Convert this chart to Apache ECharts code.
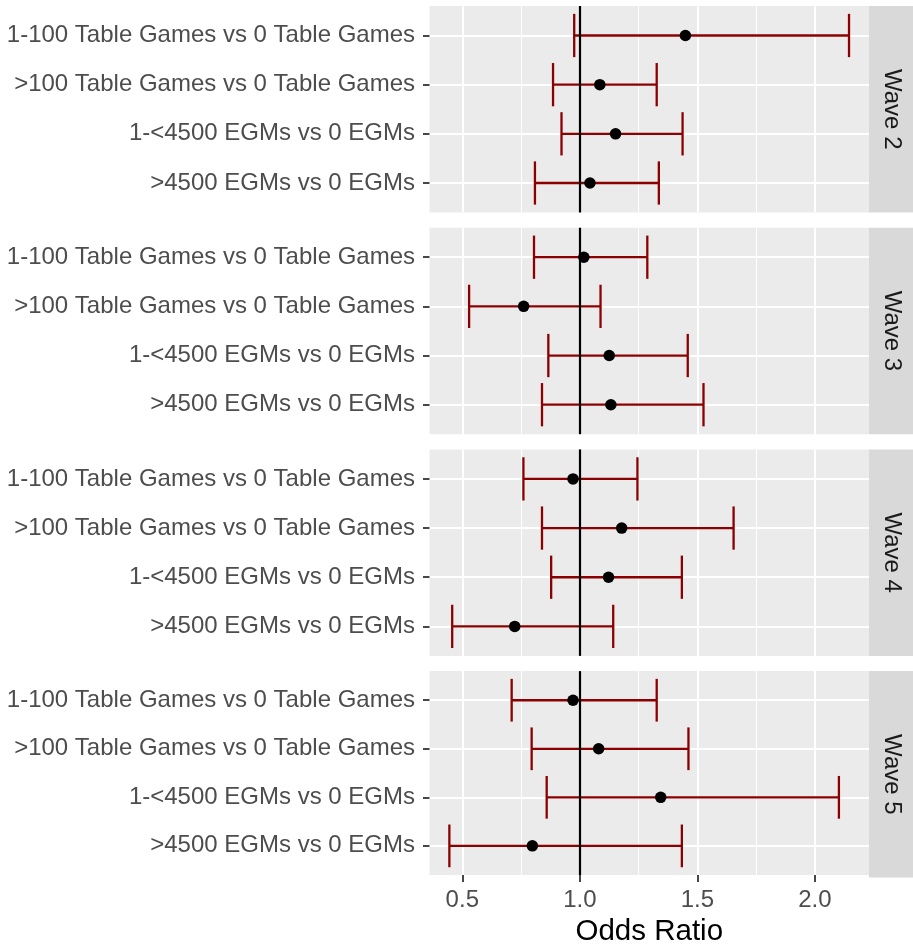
<!DOCTYPE html>
<html>
<head>
<meta charset="utf-8">
<script src="https://cdn.jsdelivr.net/npm/echarts@6/dist/echarts.min.js"></script>
<style>
html,body{margin:0;padding:0;background:#fff;}
#chart{width:913px;height:948px;}
</style>
</head>
<body>
<div id="chart"></div>
<script>
const categories = ['1-100 Table Games vs 0 Table Games', '>100 Table Games vs 0 Table Games', '1-<4500 EGMs vs 0 EGMs', '>4500 EGMs vs 0 EGMs'];
const waves = ['Wave 2', 'Wave 3', 'Wave 4', 'Wave 5'];
const estimates = [
  [1.449, 1.085, 1.152, 1.043],
  [1.017, 0.761, 1.125, 1.132],
  [0.971, 1.178, 1.122, 0.723],
  [0.971, 1.080, 1.344, 0.798]
];
const lower = [
  [0.976, 0.886, 0.922, 0.809],
  [0.805, 0.529, 0.866, 0.839],
  [0.760, 0.839, 0.878, 0.457],
  [0.710, 0.795, 0.859, 0.445]
];
const upper = [
  [2.145, 1.327, 1.437, 1.336],
  [1.287, 1.088, 1.459, 1.526],
  [1.245, 1.654, 1.434, 1.142],
  [1.327, 1.462, 2.102, 1.434]
];
const xTicks = [0.5, 1.0, 1.5, 2.0];
const xMinor = [0.75, 1.25, 1.75];
const refValue = 1;

const FONT = "'Liberation Sans', Arial, sans-serif";
const panelLeft = 429.5, panelRight = 869, stripW = 44;
const panelTop0 = 6, panelStep = 221.7, panelH = 206.5;
const xMin = 0.3605, xMax = 2.23;

const chart = echarts.init(document.getElementById('chart'), null, {renderer: 'canvas'});

const grids = [], xAxes = [], yAxes = [], series = [], graphics = [];
const catPos = categories.map((c, i) => i + 1);

waves.forEach((w, p) => {
  const top = panelTop0 + p * panelStep;
  const isBottom = p === waves.length - 1;
  grids.push({left: panelLeft, width: panelRight - panelLeft, top: top, height: panelH,
    show: true, backgroundColor: '#EBEBEB', borderWidth: 0, containLabel: false});
  xAxes.push({
    type: 'value', gridIndex: p, min: xMin, max: xMax, position: 'bottom',
    axisLine: {show: false},
    axisTick: {show: isBottom, customValues: xTicks, length: 7, lineStyle: {color: '#333333', width: 1.8}},
    axisLabel: {show: isBottom, customValues: xTicks, margin: 13, color: '#4D4D4D', fontSize: 24, fontFamily: FONT,
      formatter: v => v.toFixed(1)},
    splitLine: {show: true, lineStyle: {color: '#FFFFFF', width: 2}},
    name: isBottom ? 'Odds Ratio' : '', nameLocation: 'middle', nameGap: 42,
    nameTextStyle: {color: '#000000', fontSize: 29.5, fontFamily: FONT}
  });
  xAxes.push({
    type: 'value', gridIndex: p, min: xMin, max: xMax, position: 'top',
    axisLine: {show: false},
    axisTick: {show: false, customValues: xMinor},
    axisLabel: {show: false, customValues: xMinor},
    splitLine: {show: true, lineStyle: {color: '#FFFFFF', width: 1}}
  });
  yAxes.push({
    type: 'value', gridIndex: p, min: 0.4, max: 4.6, inverse: true,
    axisLine: {show: false},
    axisTick: {show: true, customValues: catPos, length: 6.5, lineStyle: {color: '#333333', width: 1.8}},
    axisLabel: {show: true, customValues: catPos, margin: 14.5, color: '#4D4D4D', fontSize: 24, fontFamily: FONT,
      padding: [8, 0, 0, 0],
      formatter: v => categories[Math.round(v) - 1] || ''},
    splitLine: {show: true, lineStyle: {color: '#FFFFFF', width: 2}}
  });
  series.push({
    type: 'line', xAxisIndex: p * 2, yAxisIndex: p, data: [], z: 2, silent: true,
    markLine: {symbol: ['none', 'none'], silent: true, label: {show: false},
      lineStyle: {color: '#000000', width: 2.2, type: 'solid', opacity: 1},
      emphasis: {disabled: true},
      data: [{xAxis: refValue}]}
  });
  series.push({
    type: 'custom', xAxisIndex: p * 2, yAxisIndex: p, z: 3, silent: true,
    data: categories.map((c, i) => [catPos[i], lower[p][i], upper[p][i]]),
    encode: {y: 0, x: [1, 2]},
    renderItem: function (params, api) {
      const yv = api.value(0), lo = api.value(1), hi = api.value(2);
      const a = api.coord([lo, yv]);
      const b = api.coord([hi, yv]);
      const half = api.size([0, 1])[1] * 0.44;
      const st = {stroke: '#8B0000', lineWidth: 2.3, fill: null};
      return {type: 'group', children: [
        {type: 'line', shape: {x1: a[0], y1: a[1], x2: b[0], y2: b[1]}, style: st},
        {type: 'line', shape: {x1: a[0], y1: a[1] - half, x2: a[0], y2: a[1] + half}, style: st},
        {type: 'line', shape: {x1: b[0], y1: b[1] - half, x2: b[0], y2: b[1] + half}, style: st}
      ]};
    }
  });
  series.push({
    type: 'scatter', xAxisIndex: p * 2, yAxisIndex: p, z: 4, silent: true,
    symbol: 'circle', symbolSize: 11.5, itemStyle: {color: '#000000', opacity: 1},
    data: categories.map((c, i) => [estimates[p][i], catPos[i]])
  });
  graphics.push({type: 'rect', left: panelRight, top: top, shape: {width: stripW, height: panelH},
    style: {fill: '#D9D9D9'}, silent: true, z: 1});
  graphics.push({type: 'text', x: panelRight + stripW / 2 + 1, y: top + panelH / 2, rotation: -Math.PI / 2,
    style: {text: w, fill: '#1A1A1A', font: '24px ' + FONT, align: 'center', verticalAlign: 'middle'},
    silent: true, z: 2});
});

chart.setOption({
  animation: false,
  backgroundColor: '#FFFFFF',
  grid: grids,
  xAxis: xAxes,
  yAxis: yAxes,
  series: series,
  graphic: graphics
});
</script>
</body>
</html>
